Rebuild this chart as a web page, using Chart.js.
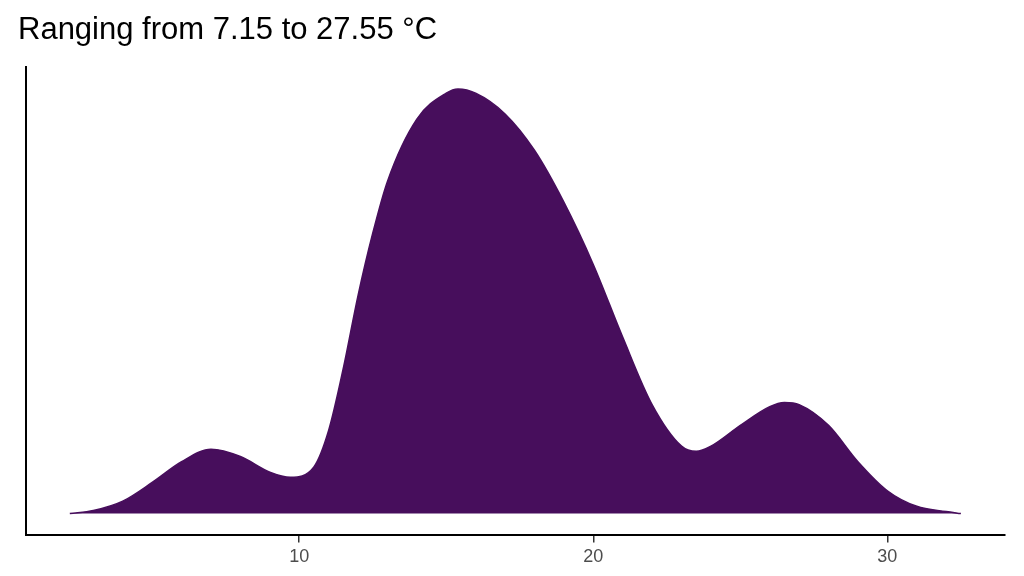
<!doctype html>
<html lang="en">
  <head>
    <meta charset="UTF-8" />
    <title>Density</title>
    <script src="https://cdn.jsdelivr.net/npm/chart.js"></script>
    <style>
      html, body { margin: 0; padding: 0; background: #fff; }
      .chart-container { position: relative; width: 1024px; height: 576px; }
    </style>
  </head>
  <body>
    <div class="chart-container">
      <canvas id="densityChart" width="1024" height="576"></canvas>
    </div>

    <script>
      // temperature (°C) and estimated density height
      const temps = [2.2, 3, 4, 5, 6, 7, 8, 9, 9.7, 10.5, 11, 11.5, 12, 12.5, 13, 14, 15, 15.4, 16, 17, 18, 19, 20, 21, 22, 23, 23.5, 24, 25, 26, 26.5, 27, 28, 29, 30, 31, 32, 32.5]
      const density = [0, 3, 12, 30, 50, 62, 55, 40, 35, 45, 80, 140, 210, 270, 320, 380, 405, 409, 405, 385, 350, 300, 240, 170, 105, 65, 60, 65, 85, 103, 107, 105, 85, 50, 22, 7, 2, 0]
      const xTicks = [10, 20, 30]

      const ctx = document.getElementById('densityChart').getContext('2d')
      new Chart(ctx, {
        type: 'line',
        data: {
          datasets: [
            {
              data: temps.map((t, i) => ({ x: t, y: density[i] })),
              borderColor: '#470E5C',
              backgroundColor: '#470E5C',
              borderWidth: 1.5,
              fill: 'origin',
              pointRadius: 0,
              cubicInterpolationMode: 'monotone'
            }
          ]
        },
        options: {
          responsive: false,
          animation: false,
          layout: { padding: { left: 18, right: 19, top: 0, bottom: 4 } },
          plugins: {
            legend: { display: false },
            tooltip: { enabled: false },
            title: {
              display: true,
              text: 'Ranging from 7.15 to 27.55 °C',
              align: 'start',
              color: '#000',
              font: { family: 'Liberation Sans', size: 31, weight: 'normal' },
              padding: { top: 12, bottom: 18 }
            }
          },
          scales: {
            x: {
              type: 'linear',
              min: 0.71,
              max: 34,
              afterBuildTicks: (axis) => { axis.ticks = xTicks.map((v) => ({ value: v })) },
              border: { display: true, color: '#000', width: 2 },
              grid: { drawOnChartArea: false, drawTicks: true, tickLength: 7, color: '#333', lineWidth: 1.5 },
              ticks: { color: '#4d4d4d', font: { family: 'Liberation Sans', size: 18 }, padding: 4 }
            },
            y: {
              min: -21,
              max: 430,
              border: { display: true, color: '#000', width: 2 },
              grid: { display: false },
              ticks: { display: false }
            }
          }
        }
      })
    </script>
  </body>
</html>
